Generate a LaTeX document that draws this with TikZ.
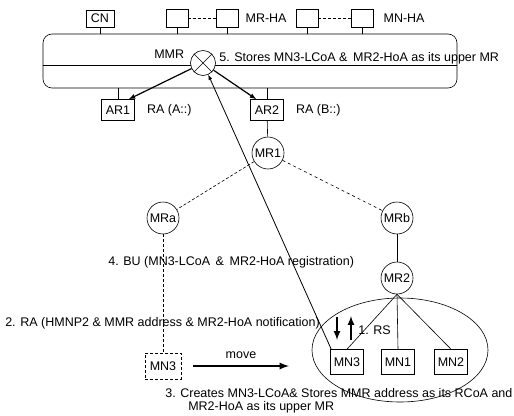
\documentclass[tikz,border=0pt]{standalone}
\usepackage{fontspec}
\setmainfont{Liberation Sans}
\usetikzlibrary{shapes, arrows, positioning}
\tikzstyle{box} = [draw, rectangle, minimum width=33pt, minimum height=21pt, inner sep=1pt, fill=white]
\tikzstyle{hbox} = [draw, rectangle, minimum width=22pt, minimum height=18pt, inner sep=0pt]
\tikzstyle{router} = [draw, circle, minimum size=32pt, inner sep=0pt, fill=white]
\tikzstyle{txt} = [anchor=west, inner sep=0pt]
\tikzstyle{msg} = [->, >=latex, thick]

\begin{document}
\begin{tikzpicture}[x=1pt, y=-1pt, semithick, font=\fontsize{12.5}{14}\selectfont]
	\useasboundingbox (0,0) rectangle (514,415);
	% correspondent and home agents
	\node [box, minimum width=28pt, minimum height=17pt] (cn) at (100,18.5) {CN};
	\node [hbox] (mrha1) at (177,18.5) {};
	\node [hbox] (mrha2) at (227,18.5) {};
	\node [hbox] (mnha1) at (307,18.5) {};
	\node [hbox] (mnha2) at (362,18.5) {};
	\node [txt, right=7pt of mrha2] (mrhatxt) {MR-HA};
	\node [txt, right=10pt of mnha2] (mnhatxt) {MN-HA};
	\draw [densely dashed, thin] (mrha1) -- (mrha2);
	\draw [densely dashed, thin] (mnha1) -- (mnha2);
	% MMR domain
	\node [draw, rounded corners=9pt, minimum width=414pt, minimum height=54pt] (mmr) at (250,61) {};
	\draw ([yshift=-4pt]mmr.west) -- ([yshift=-4pt]mmr.east);
	\foreach \n in {cn, mrha1, mrha2, mnha1, mnha2}
		\draw (\n) -- (\n |- mmr.north);
	\node [txt] (mmrtxt) at (154,54) {MMR};
	\node [draw, circle, minimum size=25pt, inner sep=0pt, fill=white] (xr) at (203,63) {};
	\draw (xr.45) -- (xr.225) (xr.135) -- (xr.315);
	\node [txt] (step5) at (219,58) {5. Stores MN3-LCoA \&\, MR2-HoA as its upper MR};
	% access routers
	\node [box] (ar1) at (118,110) {AR1};
	\node [box] (ar2) at (267,110) {AR2};
	\node [txt, right=12pt of ar1] (ra1) {RA (A::)};
	\node [txt, right=12pt of ar2] (ra2) {RA (B::)};
	\draw (ar1) -- (ar1 |- mmr.south);
	\draw (ar2) -- (ar2 |- mmr.south);
	\draw [msg, line width=1.2pt] (xr) -- ([xshift=-6pt]ar1.north east);
	\draw [msg, line width=1.2pt] (xr) -- ([xshift=6pt]ar2.north west);
	% mobile routers
	\node [router] (mr1) at (268,153) {MR1};
	\node [router] (mra) at (163,218) {MRa};
	\node [router] (mrb) at (397,218) {MRb};
	\node [router] (mr2) at (397,278) {MR2};
	\draw (ar2) -- (mr1);
	\draw [densely dashed] (mr1) -- (mra);
	\draw [dashed] (mr1) -- (mrb);
	\draw (mrb) -- (mr2);
	% mobile network of MR2
	\node [draw, ellipse, minimum width=176pt, minimum height=104pt] (net) at (400,350) {};
	\node [box, minimum height=25pt] (mn3) at (347,362) {MN3};
	\node [box, minimum height=25pt] (mn1) at (398,362) {MN1};
	\node [box, minimum height=25pt] (mn2) at (451,362) {MN2};
	\foreach \n in {mn3, mn1, mn2}
		\draw (mr2.south) -- (\n.north);
	% old position of MN3
	\node [box, densely dashed, minimum width=36pt, minimum height=26pt] (oldmn3) at (163,366) {MN3};
	\draw [densely dashed] (mra) -- (oldmn3);
	\coordinate (movebeg) at (193,366);
	\coordinate (moveend) at (289,366);
	\draw [->, >=latex, line width=2.2pt] (movebeg) -- node [above=3pt] {move} (moveend);
	% messages
	\coordinate (rsa) at (337,317);
	\coordinate (rsb) at (337,340);
	\coordinate (rsc) at (351,340);
	\coordinate (rsd) at (351,316);
	\draw [msg, line width=2pt] (rsa) -- (rsb);
	\draw [msg, line width=2pt] (rsc) -- (rsd);
	\node [txt] (step1) at (358,330) {1. RS};
	\draw [->, >=latex, thick] ([xshift=1pt]mn3.north west) -- (xr);
	\node [txt] (step2) at (5,323) {2. RA (HMNP2 \& MMR address \& MR2-HoA notification)};
	\node [txt] (step4) at (108,262) {4. BU (MN3-LCoA \,\&\, MR2-HoA registration)};
	\node [txt] (step3) at (165,393) {3. Creates MN3-LCoA\& Stores MMR address as its RCoA and};
	\node [txt] (step3b) at (188,407) {MR2-HoA as its upper MR};
\end{tikzpicture}
\end{document}
